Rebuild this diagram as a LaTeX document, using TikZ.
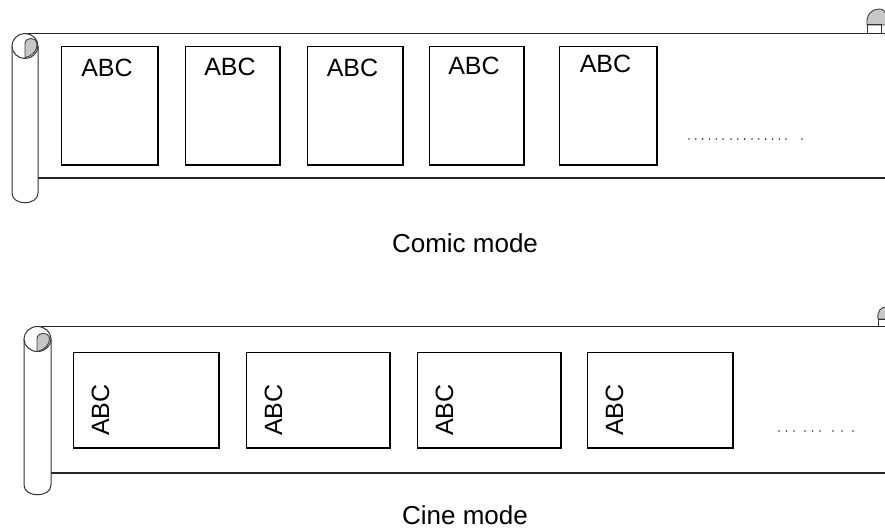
\documentclass[tikz,border=0pt]{standalone}
\usepackage{fontspec}
\setmainfont{Liberation Sans}
\begin{document}
\begin{tikzpicture}[x=1pt,y=-1pt,
  frame/.style={draw=black, line width=1.4pt, inner sep=0pt, anchor=north west},
  scrollline/.style={draw=black!85, line width=1.4pt},
  rollend/.style={draw=black!80, line width=1pt},
  curlfill/.style={fill=black!22, draw=black!75, line width=0.9pt},
  abc/.style={font=\fontsize{25}{30}\selectfont, inner sep=0pt},
  caption/.style={font=\fontsize{26}{31}\selectfont, inner sep=0pt, anchor=base},
  dot/.style={fill=black!80}]
\useasboundingbox (0,0) rectangle (885,529);
\fill[white] (0,0) rectangle (885,529);

% ---------- comic strip scroll ----------
\draw[scrollline] (25,33.5) -- (885,33.5);
\draw[scrollline] (38,178) -- (885,178);
\draw[rollend, fill=white] (12,46) -- (12,193) .. controls (12,206) and (38,206) .. (38,193) -- (38,46);
\draw[rollend, fill=white] (25,46) ellipse[x radius=13, y radius=12.5];
\draw[curlfill] (25,57.5) -- (25,44) .. controls (25,37) and (36,36) .. (37,44)
  .. controls (37.5,50) and (33,56) .. (25,57.5) -- cycle;
\begin{scope}
  \clip (0,0) rectangle (885,529);
  \draw[curlfill] (867,25) .. controls (866,14) and (872,9) .. (879,9)
    .. controls (886,9) and (889,17) .. (889,25) -- cycle;
  \draw[rollend] (867,33.5) -- (867,25) -- (881,25) -- (881,33.5);
\end{scope}

% comic frames
\foreach \n/\l/\w/\b in {c1/60/98/77, c2/184/96/76, c3/306/97/77, c4/428/96/75, c5/558/99/73} {
  \node[frame, minimum width={\w*1pt-1.4pt}, minimum height=118.6pt] (\n) at (\l+0.7,45.7) {};
  \node[abc, anchor=base] (\n-t) at (\l+\w/2-2,\b) {ABC};
}
\foreach \x in {689,695.8,702.6,709.4,716.2,723,731,737.8,744.6,752,758.8,765.6,772.4,779.2,786,802}
  \fill[dot] (\x,139) circle[radius=0.9];

\node[caption] (comic) at (465,252) {Comic mode};

% ---------- cine strip scroll ----------
\draw[scrollline] (37,326.5) -- (885,326.5);
\draw[scrollline] (51,473) -- (885,473);
\draw[rollend, fill=white] (24,339) -- (24,485) .. controls (24,498) and (51,498) .. (51,485) -- (51,339);
\draw[rollend, fill=white] (37.5,339) ellipse[x radius=13.5, y radius=12.5];
\draw[curlfill] (37,351.5) -- (37,339) .. controls (37,332) and (48,331) .. (49.5,338)
  .. controls (50,344) and (45,350) .. (37,351.5) -- cycle;
\begin{scope}
  \clip (0,0) rectangle (885,529);
  \draw[curlfill] (878,319) .. controls (877,311) and (881,307) .. (886,307)
    -- (890,307) -- (890,319) -- cycle;
  \draw[rollend] (878,326.5) -- (878,319) -- (890,319);
\end{scope}

% cine frames
\foreach \n/\l/\w in {m1/72/147, m2/245/145, m3/416/145, m4/586/147} {
  \node[frame, minimum width={\w*1pt-1.4pt}, minimum height=95.6pt] (\n) at (\l+0.7,351.7) {};
  \node[abc, anchor=base, rotate=90] (\n-t) at (\l+37,410) {ABC};
}
\foreach \x in {779,786.5,794,805,812.5,820,833,842,853}
  \fill[dot] (\x,431) circle[radius=0.9];

\node[caption] (cine) at (465,524.5) {Cine mode};
\end{tikzpicture}
\end{document}
